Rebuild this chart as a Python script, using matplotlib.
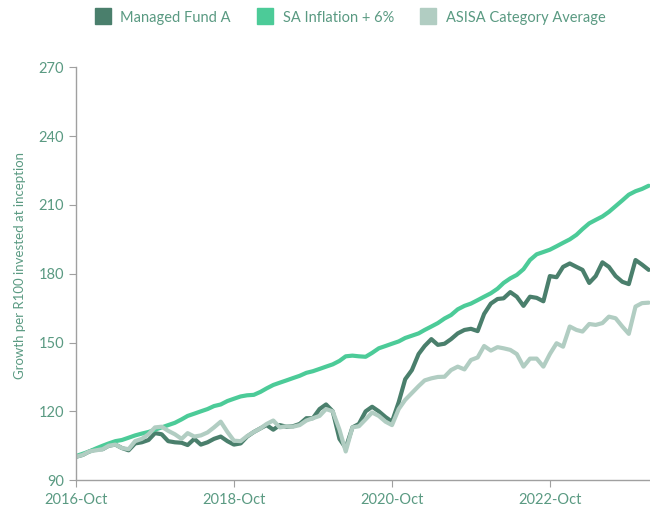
import matplotlib
matplotlib.use("Agg")
import matplotlib.pyplot as plt
import matplotlib.dates as mdates
from matplotlib.lines import Line2D
import pandas as pd

# monthly values, Oct 2016 .. Jan 2024
months = pd.date_range("2016-10-01", periods=88, freq="MS")

fund_a = [100.2, 101, 102.5, 103.4, 103.5, 105, 105.5, 104, 103, 106,
          106.5, 107.5, 110.5, 110, 107, 106.5, 106.3, 105.3, 108, 105.5,
          106.5, 108, 109, 107, 105.5, 106, 109, 111, 112.6, 114,
          112, 114, 113.3, 113.5, 114.5, 117, 117, 121, 123, 120,
          108, 104, 113, 114.5, 120, 122, 120, 117.5, 115.5, 124,
          134, 138, 145, 148.5, 151.5, 149, 149.5, 151.5, 154, 155.5,
          156, 155, 162.5, 167, 169, 169.3, 172, 170, 166, 170,
          169.5, 168, 179, 178.5, 183, 184.5, 183, 181.7, 176, 179,
          185, 183, 179, 176.5, 175.5, 186, 184, 181.7]

inflation_6 = [100.5, 101.5, 102.5, 103.8, 105, 106, 107, 107.5, 108.5, 109.5,
               110.3, 111, 112, 113, 114, 115, 116.5, 118, 119, 120,
               121, 122.3, 123, 124.5, 125.5, 126.5, 127, 127.2, 128.5, 130,
               131.5, 132.5, 133.5, 134.5, 135.5, 136.8, 137.5, 138.5, 139.5, 140.5,
               142, 144, 144.3, 144, 143.8, 145.5, 147.5, 148.5, 149.5, 150.5,
               152, 153, 154, 155.5, 157, 158.5, 160.5, 162, 164.5, 166,
               167, 168.5, 170, 171.5, 173.5, 176, 178, 179.5, 182, 186,
               188.5, 189.5, 190.5, 192, 193.5, 195, 197, 199.5, 202, 203.5,
               205, 207, 209.5, 212, 214.5, 216, 217, 218.4]

asisa_avg = [100.2, 101, 102.5, 103, 103.5, 105, 105.5, 104, 103.5, 107,
             108, 110, 113, 113.3, 111.5, 110, 108, 110.5, 109, 109.5,
             110.8, 113, 115.5, 111, 107.2, 107, 109.2, 111, 112.6, 114.5,
             116, 113, 113.5, 113.3, 114, 116, 117, 118, 121, 120,
             112, 102.5, 113, 113.5, 116.5, 119.5, 118, 115.5, 114, 121,
             125, 128, 131, 133.5, 134.4, 135, 135.1, 138, 139.5, 138.3,
             142.4, 143.5, 148.5, 146.5, 148, 147.5, 146.8, 145, 139.5, 143,
             143, 139.5, 145, 149.7, 148.2, 157, 155.5, 154.8, 158.1, 157.7,
             158.5, 161.3, 160.6, 157, 153.8, 165.7, 167.2, 167.4]

series_names = ["Managed Fund A", "SA Inflation + 6%", "ASISA Category Average"]
colors = ["#4a7f6c", "#4ccb98", "#b1cdc2"]
text_color = "#5a9a82"
y_ticks = [90, 120, 150, 180, 210, 240, 270]
x_ticks = pd.to_datetime(["2016-10-01", "2018-10-01", "2020-10-01", "2022-10-01"])

plt.rcParams["font.family"] = ["Lato", "DejaVu Sans"]

fig = plt.figure(figsize=(6.5, 5.07), dpi=100)
ax = fig.add_axes([0.117, 0.053, 0.883, 0.814])

for vals, name, c in zip([fund_a, inflation_6, asisa_avg], series_names, colors):
    ax.plot(months, vals, color=c, lw=3, solid_joinstyle="round",
            solid_capstyle="round", label=name)

ax.set_ylim(90, 270)
ax.set_yticks(y_ticks)
ax.set_xlim(months[0], months[-1] + pd.Timedelta(days=6))
ax.set_xticks(x_ticks)
ax.xaxis.set_major_formatter(mdates.DateFormatter("%Y-%b"))

for s in ["top", "right"]:
    ax.spines[s].set_visible(False)
for s in ["left", "bottom"]:
    ax.spines[s].set_color("#a0a0a0")
    ax.spines[s].set_linewidth(1)
ax.tick_params(colors="#a0a0a0", labelcolor=text_color, labelsize=10.5, length=5)
ax.tick_params(axis="x", pad=4)

ax.set_ylabel("Growth per R100 invested at inception", color=text_color,
              fontsize=9.5)
ax.yaxis.set_label_coords(-0.087, 0.52)

handles = [Line2D([], [], marker="s", ls="none", markersize=11, color=c)
           for c in colors]
fig.legend(handles, series_names, loc="upper center", bbox_to_anchor=(0.538, 1.005),
           ncol=3, frameon=False, fontsize=10.5, labelcolor=text_color,
           handlelength=1.2, handletextpad=0.6, columnspacing=1.75)

fig.savefig("out.png", dpi=100)
